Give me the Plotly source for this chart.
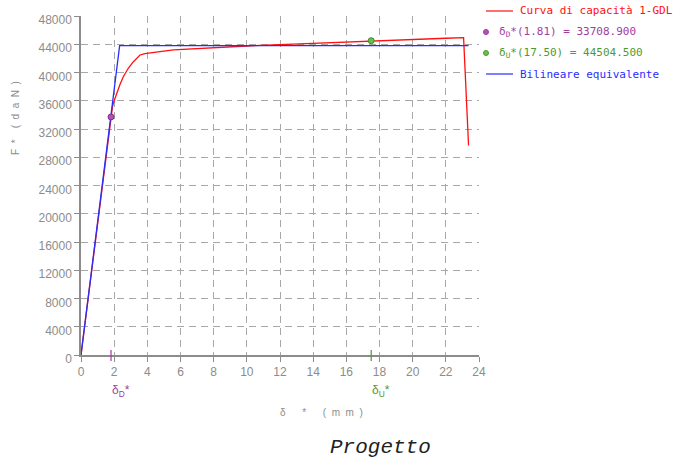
import plotly.graph_objects as go

# Capacity curve of the equivalent 1-DOF system (displacement mm, force daN)
cap_x = [0.0, 0.5, 1.0, 1.81, 1.9, 2.0, 2.15, 2.35, 2.55, 2.85, 3.16, 3.4, 3.56, 3.8, 3.96,
         5.57, 7.18, 8.0, 10.0, 12.0, 14.0, 16.0, 17.5, 20.0, 22.0, 23.07, 23.37]
cap_y = [0, 9300, 18600, 33708.9, 35200, 36000, 37050, 38300, 39410, 40600, 41530, 42100,
         42480, 42650, 42710, 43190, 43430, 43550, 43750, 43950, 44150, 44350, 44504.5,
         44700, 44850, 44940, 29660]

# Equivalent bilinear curve
bil_x = [0.0, 2.33, 23.37]
bil_y = [0, 43800, 43800]

# Characteristic points
d_d, f_d = 1.81, 33708.900
d_u, f_u = 17.50, 44504.500

x_ticks = list(range(0, 25, 2))
y_ticks = list(range(0, 48001, 4000))

RED = "#ff1010"
BLUE = "#2b2bff"
PURPLE = "#a03ca0"
GREEN = "#4e9a2e"
GREY = "#8c8c8c"

# plot area in pixels
L, R, T, B = 81, 479, 16, 355
W, H = 681, 461


def px(x):
    return (x - L) / (R - L)


def py(y):
    return (B - y) / (B - T)


fig = go.Figure()
fig.add_trace(go.Scatter(x=cap_x, y=cap_y, mode="lines",
                         line=dict(color=RED, width=1.3), showlegend=False))
fig.add_trace(go.Scatter(x=bil_x, y=bil_y, mode="lines",
                         line=dict(color=BLUE, width=1.3), showlegend=False))
fig.add_trace(go.Scatter(x=[d_d], y=[f_d], mode="markers",
                         marker=dict(size=6, color="#b550b5", line=dict(color="#803080", width=1)),
                         showlegend=False))
fig.add_trace(go.Scatter(x=[d_u], y=[f_u], mode="markers",
                         marker=dict(size=6, color="#6abf4b", line=dict(color="#3f8a25", width=1)),
                         showlegend=False))

shapes = []
annotations = []

# marks on the x axis at the two characteristic displacements
for xv, col in [(d_d, PURPLE), (d_u, GREEN)]:
    shapes.append(dict(type="line", xref="x", yref="paper", x0=xv, x1=xv,
                       y0=py(361), y1=py(350), line=dict(color=col, width=1.2)))

annotations.append(dict(x=d_d, y=py(391), xref="x", yref="paper",
                        xanchor="left", yanchor="middle", xshift=-1,
                        text="δ<sub>D</sub>*", showarrow=False,
                        font=dict(family="Liberation Sans", size=12, color=PURPLE)))
annotations.append(dict(x=d_u, y=py(391), xref="x", yref="paper",
                        xanchor="left", yanchor="middle", xshift=-1,
                        text="δ<sub>U</sub>*", showarrow=False,
                        font=dict(family="Liberation Sans", size=12, color=GREEN)))

# legend
LEG_FONT = "DejaVu Sans Mono"
legend_rows = [
    ("line", RED, "Curva di capacità 1-GDL", 11),
    ("dot", PURPLE, f"δ<sub>D</sub>*({d_d:.2f}) = {f_d:.3f}", 32),
    ("dot", GREEN, f"δ<sub>U</sub>*({d_u:.2f}) = {f_u:.3f}", 53),
    ("line", BLUE, "Bilineare equivalente", 74),
]
for kind, col, txt, yy in legend_rows:
    if kind == "line":
        shapes.append(dict(type="line", xref="paper", yref="paper",
                           x0=px(486), x1=px(513), y0=py(yy), y1=py(yy),
                           line=dict(color=col, width=1.2)))
        tx = 518
    else:
        fill = "#b550b5" if col == PURPLE else "#6abf4b"
        shapes.append(dict(type="circle", xref="paper", yref="paper",
                           x0=px(483.5), x1=px(488.5), y0=py(yy + 2.5), y1=py(yy - 2.5),
                           fillcolor=fill, line=dict(color=col, width=1)))
        tx = 497
    annotations.append(dict(x=px(tx), y=py(yy), xref="paper", yref="paper",
                            xanchor="left", yanchor="middle", text=txt, showarrow=False,
                            font=dict(family=LEG_FONT, size=11, color=col)))

# axis titles
annotations.append(dict(x=px(15), y=py(118), xref="paper", yref="paper",
                        xanchor="center", yanchor="middle",
                        text="F  *    (  d  a  N  )", textangle=-90, showarrow=False,
                        font=dict(family="Liberation Sans", size=10, color=GREY)))
annotations.append(dict(x=px(321), y=py(412), xref="paper", yref="paper",
                        xanchor="center", yanchor="middle",
                        text="δ      *      (  m  m  )", showarrow=False,
                        font=dict(family="Liberation Sans", size=10, color=GREY)))
annotations.append(dict(x=px(380), y=py(447), xref="paper", yref="paper",
                        xanchor="center", yanchor="middle",
                        text="<i>Progetto</i>", showarrow=False,
                        font=dict(family="Liberation Mono", size=21, color="#222222")))

axis_common = dict(
    showgrid=True, gridcolor="#a8a8a8", griddash="7px,5px", gridwidth=1.2,
    zeroline=False, showline=True, linecolor=GREY, linewidth=1.5,
    ticks="outside", ticklen=5, tickcolor=GREY, tickwidth=1.2,
    tickfont=dict(family="Liberation Sans", size=12, color=GREY),
)

fig.update_layout(
    width=W, height=H,
    margin=dict(l=L, r=W - R, t=T, b=H - B),
    paper_bgcolor="white", plot_bgcolor="white",
    xaxis=dict(range=[0, 24], tickvals=x_ticks, tickformat="d", **axis_common),
    yaxis=dict(range=[0, 48000], tickvals=y_ticks, tickformat="d", ticklabelshift=4,
               **axis_common),
    shapes=shapes, annotations=annotations,
)

fig.write_html("out.html")
